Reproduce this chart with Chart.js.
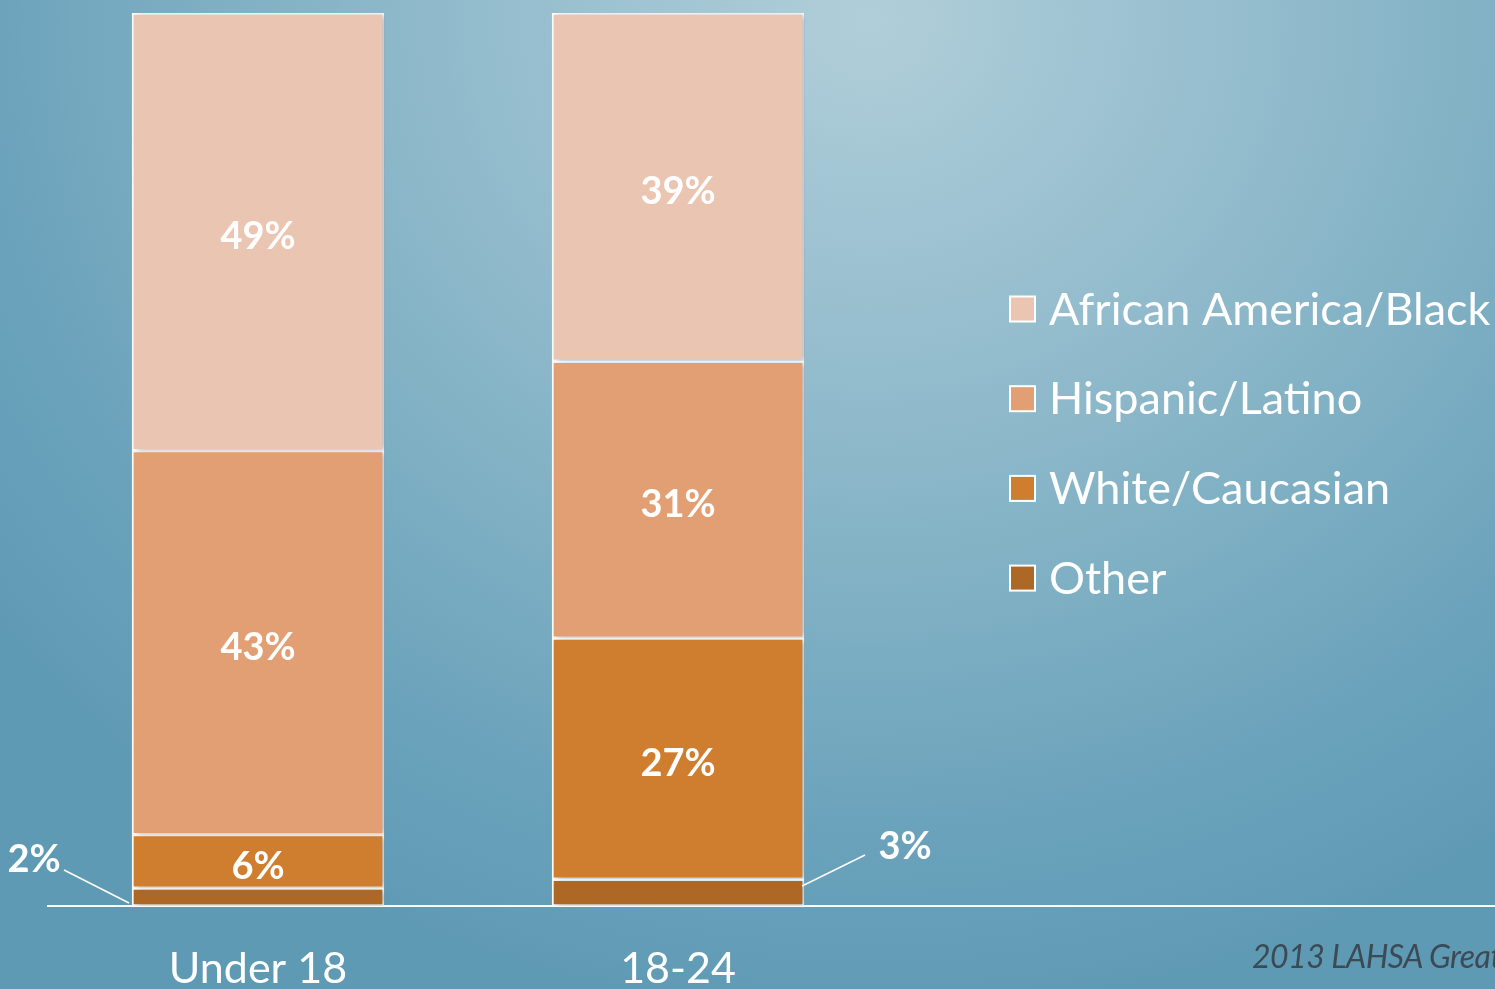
<!DOCTYPE html>
<html>
<head>
<meta charset="utf-8">
<script src="https://cdn.jsdelivr.net/npm/chart.js@4.4.1/dist/chart.umd.min.js"></script>
<style>
  html, body { margin:0; padding:0; width:1495px; height:989px; overflow:hidden; }
  body {
    background: radial-gradient(ellipse 1100px 1000px at 870px 20px, #b0ced9 0%, #98bfcf 30%, #7eafc3 60%, #6aa2bb 82%, #5f9ab4 100%);
    font-family: Lato, "Open Sans", sans-serif;
  }
  #wrap { position:absolute; left:0; top:0; width:1495px; height:989px; }
  #source { position:absolute; left:1252px; top:936px; white-space:nowrap; font-style:italic; font-size:32px; color:#3b4a54; font-family: Lato, sans-serif; letter-spacing:-0.5px; }
</style>
</head>
<body>
<div id="wrap"><canvas id="c" width="1495" height="989"></canvas></div>
<div id="source">2013 LAHSA Greater Los Angeles Homeless Count</div>
<script>
const categories = ['Under 18', '18-24'];
const seriesNames = ['Other', 'White/Caucasian', 'Hispanic/Latino', 'African America/Black'];
const otherVals = [2, 3];
const whiteVals = [6, 27];
const hispanicVals = [43, 31];
const blackVals = [49, 39];
const seriesColors = ['#AD6826', '#CF7E2F', '#E19F73', '#EAC5B2'];

const seriesValues = [otherVals, whiteVals, hispanicVals, blackVals];
const FONT = 'Lato, "Open Sans", sans-serif';

const datasets = seriesValues.map((vals, i) => ({
  label: seriesNames[i],
  data: vals.map((v, j) => ({ x: j, y: v })),
  backgroundColor: seriesColors[i],
  borderColor: '#ffffff',
  borderWidth: 2,
  borderSkipped: false,
  barThickness: 252
}));

const shadowPlugin = {
  id: 'shadow',
  beforeDatasetsDraw(chart) {
    const ctx = chart.ctx;
    ctx.save();
    ctx.shadowColor = 'rgba(20,50,70,0.35)';
    ctx.shadowBlur = 6;
    ctx.shadowOffsetX = 3;
    ctx.shadowOffsetY = 1;
  },
  afterDatasetsDraw(chart) { chart.ctx.restore(); }
};

const labelPlugin = {
  id: 'labels',
  afterDatasetsDraw(chart) {
    const ctx = chart.ctx;
    ctx.save();
    ctx.fillStyle = '#ffffff';
    ctx.strokeStyle = '#ffffff';
    ctx.textAlign = 'center';
    ctx.textBaseline = 'middle';
    ctx.font = 'bold 38px ' + FONT;
    chart.data.datasets.forEach((ds, i) => {
      const meta = chart.getDatasetMeta(i);
      meta.data.forEach((el, j) => {
        const v = ds.data[j].y;
        const txt = v + '%';
        if (v >= 5) {
          ctx.fillText(txt, el.x, (el.y + el.base) / 2 + 5);
        } else {
          ctx.lineWidth = 1.5;
          ctx.beginPath();
          if (j === 0) {
            const xl = el.x - el.width / 2;
            ctx.moveTo(xl - 3, el.base - 3);
            ctx.lineTo(xl - 68, el.base - 36);
            ctx.stroke();
            ctx.fillText(txt, xl - 98, el.base - 46);
          } else {
            const xr = el.x + el.width / 2;
            ctx.moveTo(xr - 2, el.base - 20);
            ctx.lineTo(xr + 61, el.base - 51);
            ctx.stroke();
            ctx.fillText(txt, xr + 101, el.base - 59);
          }
        }
      });
    });
    ctx.restore();
  }
};

const legendPlugin = {
  id: 'customLegend',
  afterDraw(chart) {
    const ctx = chart.ctx;
    ctx.save();
    const x0 = 1010, y0 = 309, gap = 89.7, sz = 25;
    ctx.font = '45px ' + FONT;
    ctx.textBaseline = 'middle';
    ctx.textAlign = 'left';
    const n = chart.data.datasets.length;
    for (let k = 0; k < n; k++) {
      const ds = chart.data.datasets[n - 1 - k];
      const y = y0 + k * gap;
      ctx.fillStyle = ds.backgroundColor;
      ctx.fillRect(x0, y - sz / 2, sz, sz);
      ctx.strokeStyle = '#ffffff';
      ctx.lineWidth = 2;
      ctx.strokeRect(x0, y - sz / 2, sz, sz);
      ctx.fillStyle = '#ffffff';
      ctx.fillText(ds.label, 1049, y + 1);
    }
    ctx.restore();
  }
};

new Chart(document.getElementById('c'), {
  type: 'bar',
  data: { datasets },
  plugins: [shadowPlugin, labelPlugin, legendPlugin],
  options: {
    responsive: false,
    animation: false,
    devicePixelRatio: 1,
    layout: { padding: { left: 48, top: 13, right: 0, bottom: 0 } },
    plugins: { legend: { display: false }, tooltip: { enabled: false } },
    scales: {
      x: {
        type: 'linear',
        stacked: true,
        offset: false,
        bounds: 'data',
        min: -0.5,
        max: 2.945,
        grid: { display: false, drawTicks: false, offset: false },
        border: { display: true, color: '#ffffff', width: 2 },
        afterBuildTicks(scale) { scale.ticks = categories.map((c, i) => ({ value: i })); },
        afterFit(scale) { scale.height = 83; },
        ticks: {
          autoSkip: false,
          maxRotation: 0,
          padding: 37,
          color: '#ffffff',
          font: { size: 43, family: FONT },
          callback: (v) => categories[v] !== undefined ? categories[v] : ''
        }
      },
      y: {
        stacked: true,
        display: false,
        min: 0,
        max: 100
      }
    }
  }
});
</script>
</body>
</html>
